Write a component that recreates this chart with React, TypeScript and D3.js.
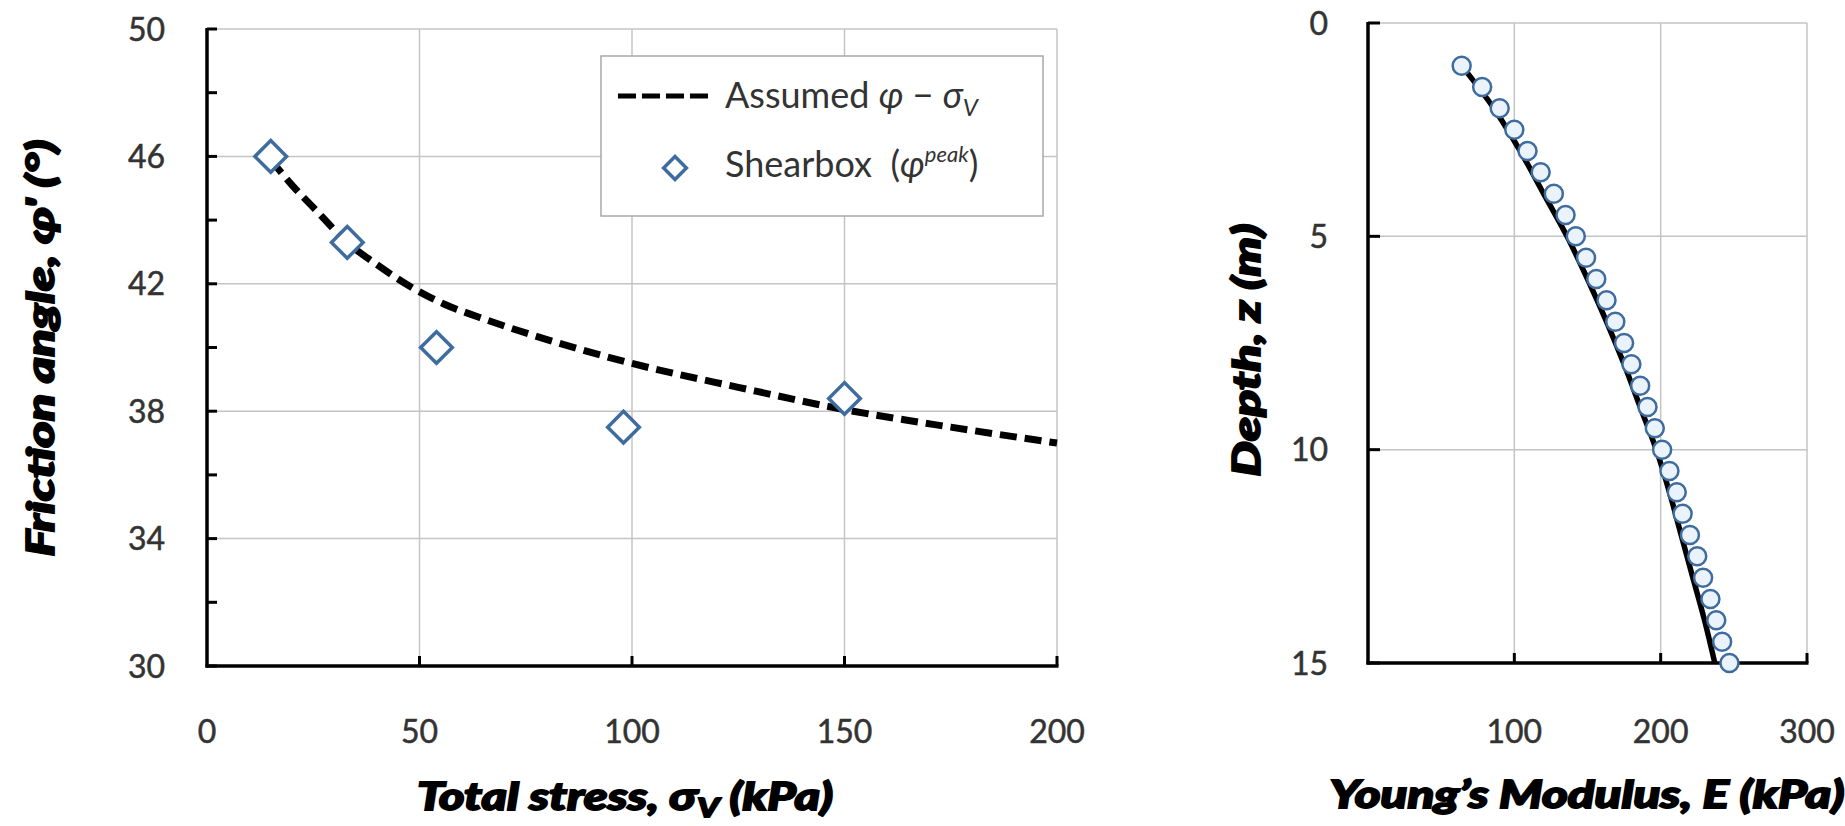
import React from "react";
import * as d3 from "d3";

// Friction angle vs total stress
const stressTicks = [0, 50, 100, 150, 200];
const frictionTicks = [30, 34, 38, 42, 46, 50];
const frictionMinorTicks = [32, 36, 40, 44, 48];
const frictionGrid = [34, 38, 42, 46, 50];
const stressGrid = [50, 100, 150, 200];

const shearboxStress = [15, 33, 54, 98, 150];
const shearboxPhi = [46.0, 43.3, 40.0, 37.5, 38.4];

const assumedStress = [15, 20, 25, 33, 40, 48, 56, 64, 80, 100, 125, 150, 175, 200];
const assumedPhi = [45.9, 45.1, 44.4, 43.3, 42.6, 41.9, 41.35, 40.95, 40.25, 39.5, 38.75, 38.05, 37.5, 37.0];

// Young's modulus vs depth
const depthTicks = [0, 5, 10, 15];
const depthGrid = [0, 5, 10];
const modulusTicks = [100, 200, 300];

const profileDepth = [1, 1.5, 2, 2.5, 3, 3.5, 4, 4.5, 5, 5.5, 6, 6.5, 7, 7.5, 8, 8.5, 9, 9.5, 10, 10.5, 11, 11.5, 12, 12.5, 13, 13.5, 14, 14.5, 15];
const profileModulus = [64, 78, 90, 100, 109, 118, 127, 135, 142, 149, 156, 163, 169, 175, 180, 186, 191, 196, 201, 206, 211, 215, 220, 225, 229, 234, 238, 242, 247];

const trendDepth = [1, 2, 3, 4, 5, 6, 7, 8, 9, 10, 11, 12, 13, 14, 15];
const trendModulus = [64, 86, 104, 120, 136, 150, 163, 175, 186, 197, 206, 214, 222, 230, 237];

const W = 1845;
const H = 826;

const tickFont = "Lato, 'Open Sans', sans-serif";
const titleFont = "Lato, 'Noto Sans', sans-serif";
const gridColor = "#c4c4c4";
const labelColor = "#333333";
const markerBlue = "#3f6c9e";

const tickStyle: React.CSSProperties = {
  fontFamily: tickFont,
  fontSize: 32,
  fill: labelColor,
  stroke: labelColor,
  strokeWidth: 0.5,
};

export default function App() {
  // left panel scales
  const xL = d3.scaleLinear().domain([0, 200]).range([207, 1057]);
  const yL = d3.scaleLinear().domain([30, 50]).range([666, 29]);
  // right panel scales
  const xR = d3.scaleLinear().domain([0, 300]).range([1368, 1807]);
  const yR = d3.scaleLinear().domain([0, 15]).range([23, 663]);

  const assumedLine = d3
    .line<number>()
    .x((_, i) => xL(assumedStress[i]))
    .y((d) => yL(d))
    .curve(d3.curveMonotoneX);

  const trendLine = d3
    .line<number>()
    .x((d) => xR(d))
    .y((_, i) => yR(trendDepth[i]))
    .curve(d3.curveMonotoneY);

  const diamond = d3.symbol().type(d3.symbolSquare).size(500)() as string;
  const legendDiamond = d3.symbol().type(d3.symbolSquare).size(260)() as string;

  const titleStyle: React.CSSProperties = {
    fontFamily: titleFont,
    fontWeight: 900,
    fontStyle: "italic",
    fontSize: 38,
    fill: "#000",
    stroke: "#000",
    strokeWidth: 1.8,
  };

  return (
    <svg
      width={W}
      height={H}
      viewBox={`0 0 ${W} ${H}`}
      style={{ position: "absolute", left: 0, top: 0, background: "#fff" }}
    >
      <rect x={0} y={0} width={W} height={H} fill="#fff" />

      {/* ---------- left panel ---------- */}
      <g>
        {frictionGrid.map((v) => (
          <line key={"gy" + v} x1={xL(0)} x2={xL(200)} y1={yL(v)} y2={yL(v)} stroke={gridColor} strokeWidth={1.5} />
        ))}
        {stressGrid.map((v) => (
          <line key={"gx" + v} x1={xL(v)} x2={xL(v)} y1={yL(30)} y2={yL(50)} stroke={gridColor} strokeWidth={1.5} />
        ))}

        {/* axes */}
        <line x1={xL(0)} x2={xL(0)} y1={yL(50) - 1} y2={yL(30) + 1.5} stroke="#000" strokeWidth={3.5} />
        <line x1={xL(0) - 1.5} x2={xL(200) + 1.5} y1={yL(30)} y2={yL(30)} stroke="#000" strokeWidth={3.5} />
        {frictionTicks.concat(frictionMinorTicks).map((v) => (
          <line key={"ty" + v} x1={xL(0)} x2={xL(0) + 10} y1={yL(v)} y2={yL(v)} stroke="#000" strokeWidth={3} />
        ))}
        {stressGrid.map((v) => (
          <line key={"tx" + v} x1={xL(v)} x2={xL(v)} y1={yL(30)} y2={yL(30) - 10} stroke="#000" strokeWidth={3} />
        ))}

        {frictionTicks.map((v) => (
          <text key={"ly" + v} x={165} y={yL(v)} dy="0.36em" textAnchor="end" style={tickStyle}>
            {v}
          </text>
        ))}
        {stressTicks.map((v) => (
          <text key={"lx" + v} x={xL(v)} y={743} textAnchor="middle" style={tickStyle}>
            {v}
          </text>
        ))}

        {/* assumed relation */}
        <path
          d={assumedLine(assumedPhi) as string}
          fill="none"
          stroke="#000"
          strokeWidth={7}
          strokeDasharray="17 8"
        />

        {/* shearbox results */}
        {shearboxPhi.map((v, i) => (
          <path
            key={"sb" + i}
            d={diamond}
            transform={`translate(${xL(shearboxStress[i])},${yL(v)}) rotate(45)`}
            fill="#fff"
            stroke={markerBlue}
            strokeWidth={3.5}
          />
        ))}

        {/* legend */}
        <rect x={601} y={56} width={442} height={160} fill="#fff" stroke="#a8a8a8" strokeWidth={1.5} />
        <line x1={618} x2={710} y1={96} y2={96} stroke="#000" strokeWidth={5} strokeDasharray="18 6" />
        <text x={725} y={108} style={{ fontFamily: tickFont, fontSize: 36, fill: labelColor }}>
          Assumed <tspan fontStyle="italic">φ</tspan> − <tspan fontStyle="italic">σ</tspan>
          <tspan fontStyle="italic" fontSize={24} dy={8}>V</tspan>
        </text>
        <path
          d={legendDiamond}
          transform="translate(675,168) rotate(45)"
          fill="#fff"
          stroke={markerBlue}
          strokeWidth={3.5}
        />
        <text x={725} y={177} style={{ fontFamily: tickFont, fontSize: 36, fill: labelColor }}>
          Shearbox{"\u00a0\u00a0"}(<tspan fontStyle="italic">φ</tspan>
          <tspan fontStyle="italic" fontSize={22} dy={-15}>peak</tspan>
          <tspan dy={15}>)</tspan>
        </text>

        {/* axis titles */}
        <text x={625} y={810} textAnchor="middle" textLength={416} lengthAdjust="spacingAndGlyphs" style={titleStyle}>
          Total stress, σ<tspan fontSize={26} dy={7}>V</tspan>
          <tspan dy={-7}> (kPa)</tspan>
        </text>
        <text
          transform="translate(54,348) rotate(-90)"
          textAnchor="middle"
          textLength={417}
          lengthAdjust="spacingAndGlyphs"
          style={titleStyle}
        >
          Friction angle, φ' (°)
        </text>
      </g>

      {/* ---------- right panel ---------- */}
      <g>
        {depthGrid.map((v) => (
          <line key={"rgy" + v} x1={xR(0)} x2={xR(300)} y1={yR(v)} y2={yR(v)} stroke={gridColor} strokeWidth={1.5} />
        ))}
        {modulusTicks.map((v) => (
          <line key={"rgx" + v} x1={xR(v)} x2={xR(v)} y1={yR(0)} y2={yR(15)} stroke={gridColor} strokeWidth={1.5} />
        ))}

        <line x1={xR(0)} x2={xR(0)} y1={yR(0) - 1} y2={yR(15) + 1.5} stroke="#000" strokeWidth={3.5} />
        <line x1={xR(0) - 1.5} x2={xR(300) + 1.5} y1={yR(15)} y2={yR(15)} stroke="#000" strokeWidth={3.5} />
        {depthTicks.map((v) => (
          <line key={"rty" + v} x1={xR(0)} x2={xR(0) + 12} y1={yR(v)} y2={yR(v)} stroke="#000" strokeWidth={3} />
        ))}
        {modulusTicks.map((v) => (
          <line key={"rtx" + v} x1={xR(v)} x2={xR(v)} y1={yR(15)} y2={yR(15) - 10} stroke="#000" strokeWidth={3} />
        ))}

        {depthTicks.map((v) => (
          <text key={"rly" + v} x={1328} y={yR(v)} dy="0.36em" textAnchor="end" style={tickStyle}>
            {v}
          </text>
        ))}
        {modulusTicks.map((v) => (
          <text key={"rlx" + v} x={xR(v)} y={743} textAnchor="middle" style={tickStyle}>
            {v}
          </text>
        ))}

        <path d={trendLine(trendModulus) as string} fill="none" stroke="#000" strokeWidth={5.5} />

        {profileModulus.map((v, i) => (
          <circle
            key={"pm" + i}
            cx={xR(v)}
            cy={yR(profileDepth[i])}
            r={9}
            fill="#eaf2fb"
            stroke={markerBlue}
            strokeWidth={2.5}
          />
        ))}

        <text x={1587} y={808} textAnchor="middle" textLength={515} lengthAdjust="spacingAndGlyphs" style={titleStyle}>
          Young’s Modulus, E (kPa)
        </text>
        <text
          transform="translate(1260,350) rotate(-90)"
          textAnchor="middle"
          textLength={253}
          lengthAdjust="spacingAndGlyphs"
          style={titleStyle}
        >
          Depth, z (m)
        </text>
      </g>
    </svg>
  );
}
